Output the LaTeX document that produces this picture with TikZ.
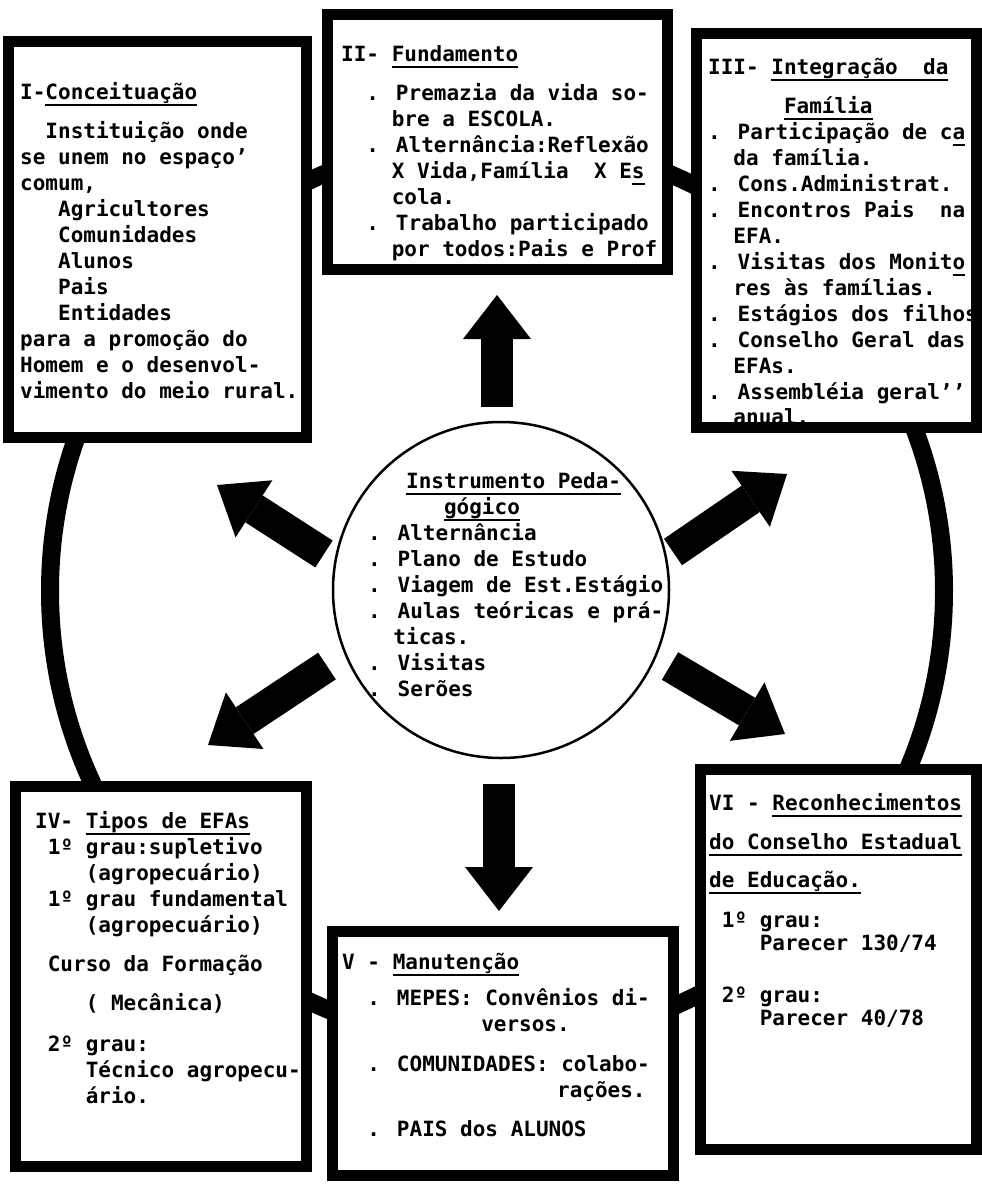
\documentclass[tikz,border=0pt]{standalone}
\usepackage{fontspec}
\newfontfamily\typew{DejaVu Sans Mono}
\usetikzlibrary{positioning, arrows.meta}
\newcommand{\sublin}[1]{\setbox0=\hbox{#1}\rlap{\rule[-7pt]{\wd0}{2.2pt}}\box0}
\tikzset{
  every node/.style={text=black, font=\typew\bfseries\fontsize{21}{26}\selectfont, inner sep=0pt},
  panel/.style={draw=black, fill=white, line width=11pt, anchor=north west},
  notes/.style={anchor=north west},
  bigarrow/.style={draw=black, line width=32pt, -{Triangle[length=44pt, width=68pt, line width=0pt]}}
}

\begin{document}
\begin{tikzpicture}[x=1pt, y=-1pt]
  \useasboundingbox (0,0) rectangle (982,1184);
  % ring behind the panels
  \draw[line width=18pt] (497,591) ellipse [x radius=447pt, y radius=452pt];

  % Panels
  \node (boxI) [panel, minimum width=298pt, minimum height=396pt] at (3,36) {};
  \node (boxII) [panel, minimum width=340pt, minimum height=255pt] at (322,9) {};
  \node (boxIII) [panel, minimum width=280pt, minimum height=394pt] at (691,28) {};
  \node (boxIV) [panel, minimum width=291pt, minimum height=380pt] at (10,781) {};
  \node (boxV) [panel, minimum width=341pt, minimum height=244pt] at (327,926) {};
  \node (boxVI) [panel, minimum width=276pt, minimum height=380pt] at (695,764) {};
  \node (instr) [circle, draw=black, fill=white, line width=2.5pt, minimum size=336pt] at (501,590) {};

  % Arrows
  \coordinate (upTail) at (497,407);  \coordinate (upTip) at (497,295);
  \coordinate (downTail) at (499,784); \coordinate (downTip) at (499,911);
  \coordinate (ulTail) at (324,554);  \coordinate (ulTip) at (217,485);
  \coordinate (llTail) at (327,666);  \coordinate (llTip) at (208,745);
  \coordinate (urTail) at (673,552);  \coordinate (urTip) at (787,474);
  \coordinate (lrTail) at (670,666);  \coordinate (lrTip) at (785,734);
  \draw[bigarrow] (upTail) -- (upTip);
  \draw[bigarrow] (downTail) -- (downTip);
  \draw[bigarrow] (ulTail) -- (ulTip);
  \draw[bigarrow] (llTail) -- (llTip);
  \draw[bigarrow] (urTail) -- (urTip);
  \draw[bigarrow] (lrTail) -- (lrTip);

  % Texts
  \node (textI) [notes, below right=45pt and 17pt of boxI.north west] {
    \begin{tabular}{@{}l@{}}
      I-\sublin{Conceituação}\\[13pt]
      ~~Instituição onde\\
      se unem no espaço’\\
      comum,\\
      ~~~Agricultores\\
      ~~~Comunidades\\
      ~~~Alunos\\
      ~~~Pais\\
      ~~~Entidades\\
      para a promoção do\\
      Homem e o desenvol-\\
      vimento do meio rural.
    \end{tabular}
  };
  \node (textII) [notes, below right=34pt and 19pt of boxII.north west] {
    \begin{tabular}{@{}l@{}}
      II- \sublin{Fundamento}\\[13pt]
      ~~. Premazia da vida so-\\
      ~~~~bre a ESCOLA.\\
      ~~. Alternância:Reflexão\\
      ~~~~X Vida,Família~~X E\sublin{s}\\
      ~~~~cola.\\
      ~~. Trabalho participado\\
      ~~~~por todos:Pais e Prof
    \end{tabular}
  };
  \node (textIII) [notes, below right=28pt and 17pt of boxIII.north west] {
    \begin{tabular}{@{}l@{}}
      III- \sublin{Integração~~da}\\[13pt]
      ~~~~~~\sublin{Família}\\
      . Participação de c\sublin{a}\\
      ~~da família.\\
      . Cons.Administrat.\\
      . Encontros Pais~~na\\
      ~~EFA.\\
      . Visitas dos Monit\sublin{o}\\
      ~~res às famílias.\\
      . Estágios dos filhos\\
      . Conselho Geral das\\
      ~~EFAs.\\
      . Assembléia geral’’\\[-1pt]
      ~~anual.
    \end{tabular}
  };
  \node (textInstr) [notes] at (368,470) {
    \begin{tabular}{@{}l@{}}
      ~~~\sublin{Instrumento Peda-}\\
      ~~~~~~\sublin{gógico}\\
      . Alternância\\
      . Plano de Estudo\\
      . Viagem de Est.Estágio\\
      . Aulas teóricas e prá-\\
      ~~ticas.\\
      . Visitas\\
      . Serões
    \end{tabular}
  };
  \node (textIV) [notes, below right=29pt and 25pt of boxIV.north west] {
    \begin{tabular}{@{}l@{}}
      IV- \sublin{Tipos de EFAs}\\
      ~1º~grau:supletivo\\
      ~~~~(agropecuário)\\
      ~1º~grau fundamental\\
      ~~~~(agropecuário)\\[13pt]
      ~Curso da Formação\\[13pt]
      ~~~~( Mecânica)\\[15pt]
      ~2º~grau:\\
      ~~~~Técnico agropecu-\\
      ~~~~ário.
    \end{tabular}
  };
  \node (textV) [notes, below right=25pt and 15pt of boxV.north west] {
    \begin{tabular}{@{}l@{}}
      V - \sublin{Manutenção}\\[10pt]
      ~~. MEPES: Convênios di-\\
      ~~~~~~~~~~~versos.\\[14pt]
      ~~. COMUNIDADES: colabo-\\
      ~~~~~~~~~~~~~~~~~rações.\\[13pt]
      ~~. PAIS dos ALUNOS
    \end{tabular}
  };
  \node (textVI) [notes, below right=28pt and 14pt of boxVI.north west] {
    \begin{tabular}{@{}l@{}}
      VI - \sublin{Reconhecimentos}\\[13pt]
      \sublin{do Conselho Estadual}\\[12pt]
      \sublin{de Educação.}\\[14pt]
      ~1º~grau:\\[-3pt]
      ~~~~Parecer 130/74\\[26pt]
      ~2º~grau:\\[-3pt]
      ~~~~Parecer 40/78
    \end{tabular}
  };
\end{tikzpicture}
\end{document}
